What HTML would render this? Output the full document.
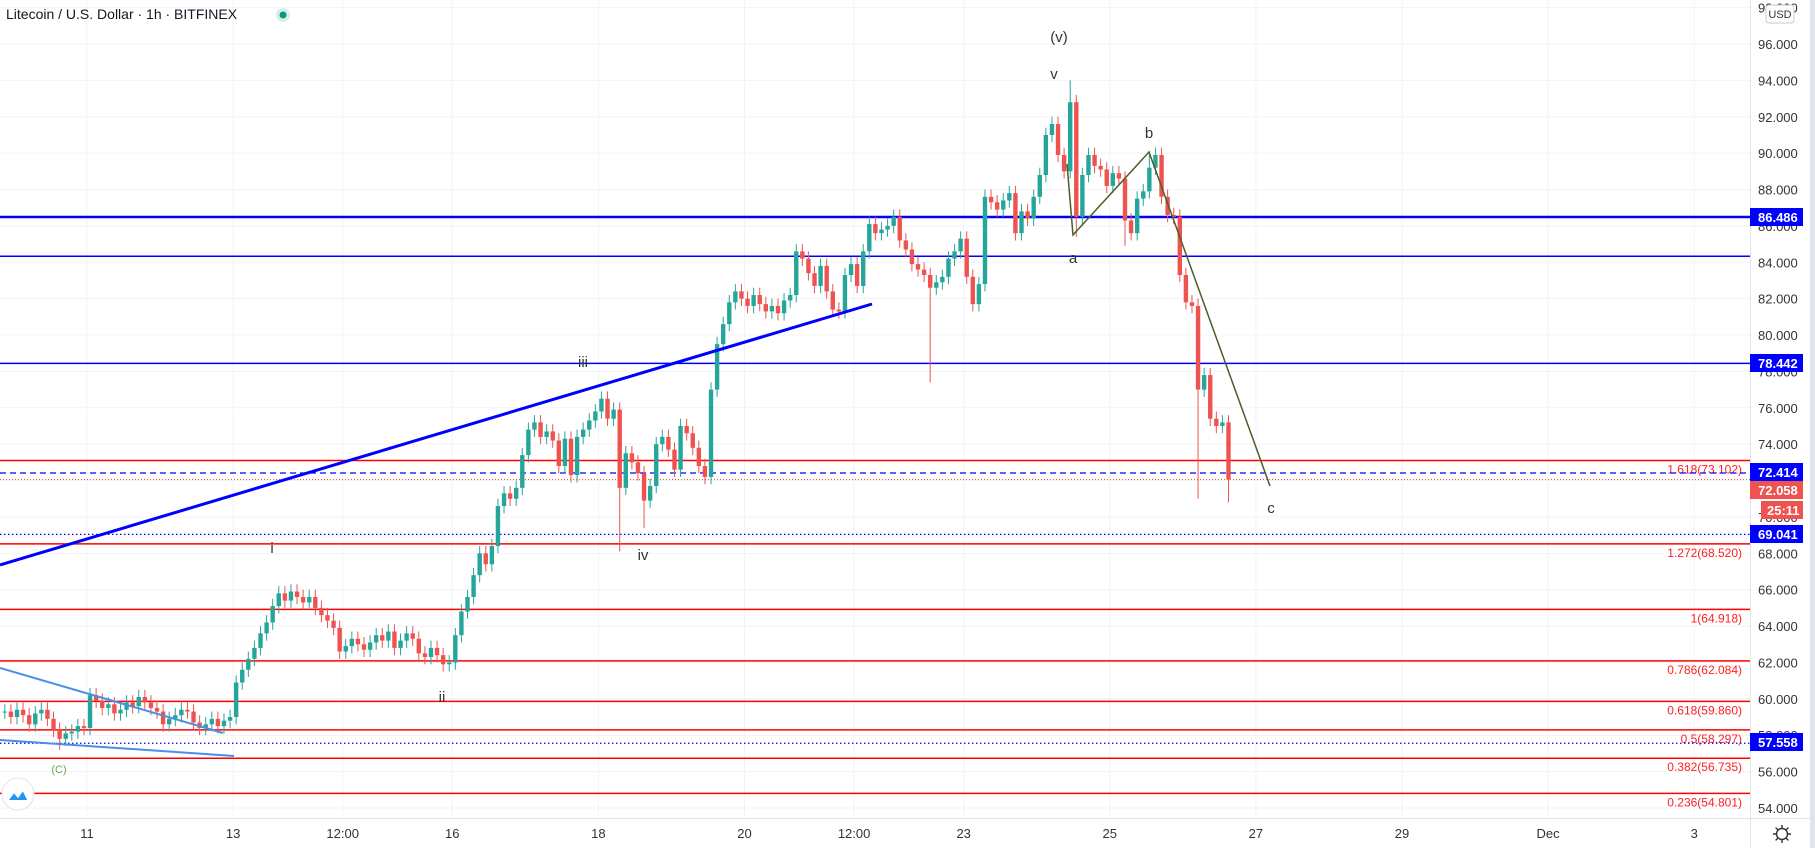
<!DOCTYPE html>
<html><head><meta charset="utf-8"><style>
html,body{margin:0;padding:0;background:#fff;width:1815px;height:848px;overflow:hidden;font-family:"Liberation Sans",sans-serif}
svg text{font-family:"Liberation Sans",sans-serif}
</style></head><body>
<svg id="chart" width="1815" height="848" viewBox="0 0 1815 848" xmlns="http://www.w3.org/2000/svg">
<rect x="0" y="0" width="1815" height="848" fill="#fff"/>
<rect x="1810" y="0" width="5" height="848" fill="#e0e3eb"/>
<g id="grid"></g>
<g id="levels"></g>
<g id="candles"></g>
<g id="draw"></g>
<g id="axes"></g>
</svg>
<script>
// ---- data ----
const startHour = -28;          // hours from Nov 11 00:00, 2h candles
const closes = [59.3,59.0,59.4,59.1,58.6,59.2,59.4,58.9,58.3,57.8,58.1,58.2,58.5,58.4,
60.2,59.9,59.5,59.7,59.2,59.4,59.8,59.6,60.1,59.8,59.5,59.3,58.6,58.9,59.1,59.4,59.3,58.7,58.4,58.6,58.9,58.5,58.8,59.0,
60.9,61.6,62.2,62.8,63.6,64.2,65.1,65.8,65.4,65.9,65.6,65.3,65.6,65.0,64.6,64.3,63.9,62.6,62.9,63.3,63.0,62.7,63.1,63.5,63.2,63.7,62.8,63.2,63.6,63.3,62.5,62.3,62.8,62.4,61.9,62.0,
63.5,64.8,65.6,66.8,68.0,67.4,68.4,70.6,71.3,71.0,71.6,73.4,74.8,75.2,74.4,74.7,74.2,72.8,74.3,72.3,74.4,74.8,75.3,75.8,76.5,75.4,75.9,71.6,73.5,73.0,72.4,70.9,71.7,74.0,74.4,73.7,72.6,75.0,74.6,73.8,72.8,72.2,
77.0,79.5,80.6,81.8,82.4,82.0,81.6,82.2,81.7,81.3,81.6,81.2,81.9,82.2,84.6,84.2,83.4,82.7,83.8,82.4,81.4,81.3,83.3,83.9,82.7,84.6,86.1,85.6,85.8,86.0,86.5,85.2,84.7,83.9,83.6,83.3,82.6,82.9,83.2,84.2,84.6,85.3,83.2,81.7,82.8,
87.6,87.3,86.9,87.4,87.8,85.6,86.8,86.4,87.6,88.8,91.0,91.6,89.9,89.0,92.8,86.5,88.8,89.9,89.3,89.1,88.2,88.9,88.6,86.3,85.6,87.5,87.9,89.2,89.9,87.6,86.6,86.5,83.3,81.8,81.6,77.0,77.8,75.4,75.0,75.2,72.058];
const wickHours = [-10, 174, 182, 276, 322, 324, 340, 348, 364, 374];
const wickPrices = [57.2, 68.1, 69.4, 77.4, 94.0, 85.4, 84.9, 90.1, 71.0, 70.8];
const priceTicks = [54,56,58,60,62,64,66,68,70,72,74,76,78,80,82,84,86,88,90,92,94,96,98];
const dateLabels = ["11","13","12:00","16","18","20","12:00","23","25","27","29","Dec","3"];
const dateHours = [0,48,84,120,168,216,252,288,336,384,432,480,528];
const fibRatios = ["1.618","1.272","1","0.786","0.618","0.5","0.382","0.236"];
const fibPrices = [73.102,68.520,64.918,62.084,59.860,58.297,56.735,54.801];
const blueLevels = [86.486,84.33,78.442];
const tagPrices = [86.486,78.442,72.414,69.041,57.558];

// ---- scales ----
const CHART_R = 1750;
function y(p){return 44+(96-p)*18.19;}
function x(h){return 87+h*3.044;}
const NS="http://www.w3.org/2000/svg";
function mk(tag,attrs,parent){const e=document.createElementNS(NS,tag);for(const k in attrs)e.setAttribute(k,attrs[k]);parent.appendChild(e);return e;}
const grid=document.getElementById('grid'),levels=document.getElementById('levels'),cg=document.getElementById('candles'),dr=document.getElementById('draw'),ax=document.getElementById('axes');

// grid
priceTicks.forEach(p=>{const l=mk('line',{x1:0,x2:CHART_R,y1:y(p),y2:y(p),stroke:'#f0f3fa','stroke-width':1},grid);

});
dateHours.forEach(h=>{const l=mk('line',{x1:x(h),x2:x(h),y1:0,y2:818,stroke:'#f0f3fa','stroke-width':1},grid);

});

// levels
blueLevels.forEach((p,i)=>{const l=mk('line',{x1:0,x2:CHART_R,y1:y(p),y2:y(p),stroke:'#0000ff','stroke-width':i==0?2.5:1.5},levels);

});
fibPrices.forEach((p,i)=>{const l=mk('line',{x1:0,x2:CHART_R,y1:y(p),y2:y(p),stroke:'#ff0000','stroke-width':1.5},levels);


const t=mk('text',{x:CHART_R-8,y:y(p)+13,'text-anchor':'end','font-size':12,fill:'#ff2020'},levels);
t.textContent=fibRatios[i]+'('+p.toFixed(3)+')';

});
{const l=mk('line',{x1:0,x2:CHART_R,y1:y(72.414),y2:y(72.414),stroke:'#0000ff','stroke-width':1.3,'stroke-dasharray':'6 4'},levels);

}
{const l=mk('line',{x1:0,x2:CHART_R,y1:y(closes[closes.length-1]),y2:y(closes[closes.length-1]),stroke:'#ef5350','stroke-width':1,'stroke-dasharray':'1 2'},levels);

}
[69.041,57.558].forEach(p=>{const l=mk('line',{x1:0,x2:CHART_R,y1:y(p),y2:y(p),stroke:'#0000ff','stroke-width':1.3,'stroke-dasharray':'1.5 2.5'},levels);

});

// candles
closes.forEach((c,i)=>{
  const h=startHour+2*i;
  const o=i==0?c:closes[i-1];
  let hi=Math.max(o,c)+0.4, lo=Math.min(o,c)-0.4;
  const wi=wickHours.indexOf(h);
  if(wi>=0){const wp=wickPrices[wi]; if(wp>hi)hi=wp; if(wp<lo)lo=wp;}
  const col=c>=o?'#26a69a':'#ef5350';
  const cx=x(h+1);
  const w=mk('line',{x1:cx,x2:cx,y1:y(hi),y2:y(lo),stroke:col,'stroke-width':1},cg);
  
  
  const top=y(Math.max(o,c)),bh=Math.max(1,y(Math.min(o,c))-top);
  const b=mk('rect',{x:cx-2.2,y:top,width:4.4,height:bh,fill:col},cg);
  
  
});
</script>
<script>
// drawings (fixed annotation coordinates)
(function(){
const NS="http://www.w3.org/2000/svg";const dr=document.getElementById('draw');
function mk(tag,attrs){const e=document.createElementNS(NS,tag);for(const k in attrs)e.setAttribute(k,attrs[k]);dr.appendChild(e);return e;}
let e;
e=mk('line',{x1:0,y1:565,x2:872,y2:304,stroke:'#0000ff','stroke-width':3});

e=mk('line',{x1:0,y1:668,x2:223,y2:733,stroke:'#4a8fe7','stroke-width':2});

e=mk('line',{x1:0,y1:740,x2:234,y2:756,stroke:'#4a8fe7','stroke-width':2});

e=mk('polyline',{points:'1067,164 1073,235 1149,152 1270,486',fill:'none',stroke:'#4b5e2a','stroke-width':1.5});

const labels=[["(v)",1059,42,'#333'],["v",1054,79,'#333'],["b",1149,138,'#333'],["a",1073,263,'#333'],["c",1271,513,'#333'],
["iii",583,367,'#333'],["i",272,553,'#333'],["iv",643,560,'#333'],["ii",442,702,'#333'],["(C)",59,773,'#6aa84f']];
labels.forEach(l=>{const t=mk('text',{x:l[1],y:l[2],'text-anchor':'middle','font-size':l[0]=="(C)"?11:15,fill:l[3]});t.textContent=l[0];

});
})();
</script>
<script>
(function(){
const NS="http://www.w3.org/2000/svg";const ax=document.getElementById('axes');
function mk(tag,attrs){const e=document.createElementNS(NS,tag);for(const k in attrs)e.setAttribute(k,attrs[k]);ax.appendChild(e);return e;}
function y(p){return 44+(96-p)*18.19;}
function x(h){return 87+h*3.044;}
let e=mk('line',{x1:1750.5,x2:1750.5,y1:0,y2:848,stroke:'#e0e3eb','stroke-width':1});

e=mk('line',{x1:0,x2:1810,y1:818.5,y2:818.5,stroke:'#e0e3eb','stroke-width':1});

priceTicks.forEach(p=>{const t=mk('text',{x:1758,y:y(p)+5,'font-size':13,fill:'#333'});t.textContent=p.toFixed(3);

});
dateLabels.forEach((d,i)=>{const t=mk('text',{x:x(dateHours[i]),y:838,'text-anchor':'middle','font-size':13,fill:'#333'});t.textContent=d;

});
const tags=[[86.486,217,'#0000ff','86.486'],[78.442,363,'#0000ff','78.442'],[72.414,472,'#0000ff','72.414'],[72.058,490,'#ef5350','72.058'],[69.041,534,'#0000ff','69.041'],[57.558,742,'#0000ff','57.558']];
tags.forEach(tg=>{const r=mk('rect',{x:1750,y:tg[1]-9,width:53,height:18,fill:tg[2]});


const t=mk('text',{x:1758,y:tg[1]+5,'font-size':13,'font-weight':'bold',fill:'#fff'});t.textContent=tg[3];

});
let r=mk('rect',{x:1761,y:501,width:42,height:18,fill:'#ef5350'});

let t=mk('text',{x:1767,y:515,'font-size':13,'font-weight':'bold',fill:'#fff'});t.textContent='25:11';

r=mk('rect',{x:1766,y:5,width:28,height:18,rx:3,fill:'#fff',stroke:'#c8cbd3'});

t=mk('text',{x:1780,y:18,'text-anchor':'middle','font-size':11,fill:'#333'});t.textContent='USD';

t=mk('text',{x:6,y:19,'font-size':14,fill:'#131722'});t.textContent='Litecoin / U.S. Dollar · 1h · BITFINEX';

let c=mk('circle',{cx:283,cy:15,r:7,fill:'#d8efe9'});

c=mk('circle',{cx:283,cy:15,r:3.5,fill:'#089981'});

const g=mk('g',{transform:'translate(1782,834)'});

g.innerHTML='<circle r="5.5" fill="none" stroke="#333" stroke-width="1.4"/><path d="M0,-9V-6M0,6V9M-9,0H-6M6,0H9M-6.4,-6.4L-4.2,-4.2M4.2,4.2L6.4,6.4M-6.4,6.4L-4.2,4.2M4.2,-4.2L6.4,-6.4" stroke="#333" stroke-width="1.4"/>';
const lg=mk('g',{transform:'translate(18,794)'});

lg.innerHTML='<circle r="16" fill="#fff" stroke="#e0e3eb"/><path d="M-10,6 L-4,-2 L0,3 L5,-4 L10,6 Z" fill="#2196f3"/><path d="M-10,6 L-4,-2 L0,3 L5,-4 L10,6" fill="none" stroke="#fff" stroke-width="1.5"/>';
})();
</script>
</body></html>
